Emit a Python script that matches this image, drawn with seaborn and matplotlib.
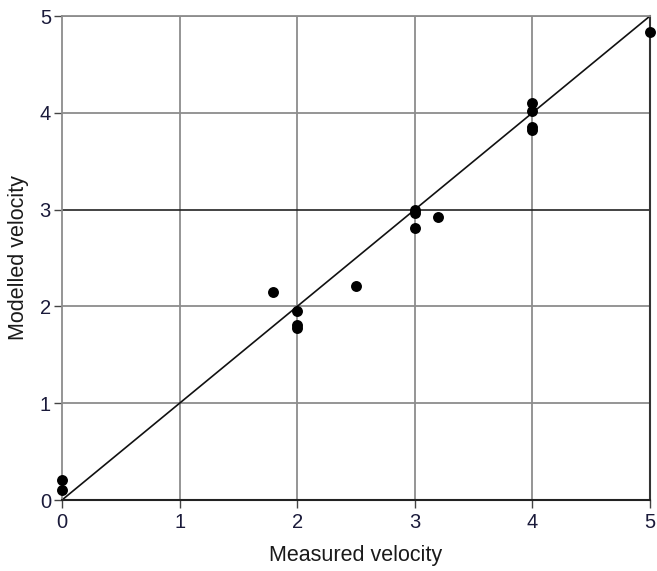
import matplotlib
matplotlib.use("Agg")
import matplotlib.pyplot as plt
import seaborn as sns
import pandas as pd

measured = [0, 0, 1.79, 2, 2, 2, 2.5, 3, 3, 3, 3.2, 4, 4, 4, 4, 5]
modelled = [0.21, 0.10, 2.15, 1.955, 1.81, 1.78, 2.21, 3.0, 2.96, 2.81, 2.92, 4.1, 4.02, 3.85, 3.82, 4.83]
ticks = [0, 1, 2, 3, 4, 5]

sns.set_theme(style="white")
plt.rcParams['font.family'] = ['Liberation Sans', 'DejaVu Sans']

df = pd.DataFrame({"Measured velocity": measured, "Modelled velocity": modelled})

fig = plt.figure(figsize=(6.57, 5.71), dpi=100)
ax = fig.add_axes([62/657, 71/571, 588/657, 484/571])

for t in [1, 2, 4, 5]:
    ax.axhline(t, color="#8c8c8c", lw=1.3, zorder=1)
for t in [1, 2, 3, 4]:
    ax.axvline(t, color="#8c8c8c", lw=1.3, zorder=1)
ax.axhline(3, color="#222222", lw=1.2, zorder=1.5)

ax.plot([0, 5], [0, 5], color="#111111", lw=1.2, zorder=2)

sns.scatterplot(data=df, x="Measured velocity", y="Modelled velocity", ax=ax,
                color="black", s=62, edgecolor="black", linewidth=0, zorder=3, clip_on=False)

ax.set_xlim(0, 5)
ax.set_ylim(0, 5)
ax.set_xticks(ticks)
ax.set_yticks(ticks)
ax.set_xticklabels([str(t) for t in ticks])
ax.set_yticklabels([str(t) for t in ticks])

for side in ["top", "left"]:
    ax.spines[side].set_color("#8c8c8c")
    ax.spines[side].set_linewidth(1.3)
ax.spines["bottom"].set_color("#222222")
ax.spines["bottom"].set_linewidth(1.5)
ax.spines["right"].set_color("#333333")
ax.spines["right"].set_linewidth(1.5)

ax.tick_params(axis="both", which="both", direction="out", length=6, width=1,
               colors="#444444", labelcolor="#1a1a3a", labelsize=14.5, pad=2)
ax.tick_params(axis="x", bottom=True, pad=3)
ax.tick_params(axis="y", left=True)

ax.set_xlabel("Measured velocity", fontsize=15.5, color="#1a1a1a", labelpad=10)
ax.set_ylabel("Modelled velocity", fontsize=15.5, color="#1a1a1a", labelpad=8)

fig.savefig("out.png", dpi=100)
